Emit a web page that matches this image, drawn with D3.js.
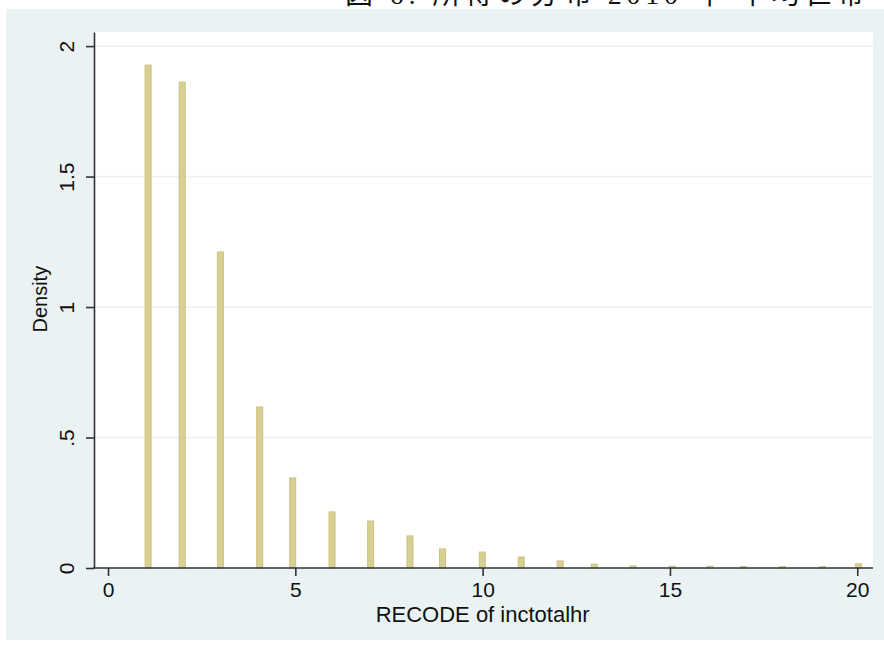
<!DOCTYPE html>
<html>
<head>
<meta charset="utf-8">
<script src="https://cdn.jsdelivr.net/npm/d3@7"></script>
<style>
  body { margin: 0; background: #fff; }
  svg { display: block; }
</style>
</head>
<body>
<svg width="884" height="647"></svg>
<script>
// bin centres and densities
var binX = [1.07, 1.98, 3.0, 4.05, 4.93, 5.98, 7.01, 8.06, 8.93, 9.99,
            11.03, 12.07, 12.98, 14.02, 15.06, 16.07, 16.96, 18.0, 19.07, 20.03];
var density = [1.927, 1.862, 1.211, 0.617, 0.345, 0.215, 0.18, 0.123, 0.073, 0.061,
               0.042, 0.027, 0.015, 0.008, 0.007, 0.007, 0.006, 0.006, 0.006, 0.016];
var xTicks = [0, 5, 10, 15, 20];
var yTicks = [0, 0.5, 1, 1.5, 2];
var yTickLabels = ["0", ".5", "1", "1.5", "2"];
var titleText = "図 6: 所得の分布 2010 年 平均世帯";
var xTitle = "RECODE of inctotalhr";
var yTitle = "Density";

var bins = binX.map(function(d, i) { return {x: d, v: density[i]}; });

var svg = d3.select("svg"),
    margin = {top: 32, right: 11, bottom: 79, left: 94},
    width = 884 - margin.left - margin.right,
    height = 647 - margin.top - margin.bottom;

// outer graph region
svg.append("rect")
    .attr("x", 6).attr("y", 9)
    .attr("width", 878).attr("height", 631)
    .attr("fill", "#eaf2f3");

// title (cut off by the top of the image, as in the original)
svg.append("text")
    .attr("x", 345)
    .attr("y", 4)
    .attr("textLength", 520)
    .attr("lengthAdjust", "spacing")
    .style("font-family", "'Liberation Serif', 'Noto Sans CJK JP', serif")
    .style("font-size", "28px")
    .attr("fill", "#111")
    .text(titleText);

var g = svg.append("g").attr("transform", "translate(" + margin.left + "," + margin.top + ")");

var x = d3.scaleLinear().domain([-0.374, 20.42]).range([0, width]),
    y = d3.scaleLinear().domain([0, 2.054]).range([height, 0]);

g.append("rect")
    .attr("width", width).attr("height", height)
    .attr("fill", "#fff");

// gridlines
g.append("g").selectAll("line")
    .data(yTicks.slice(1))
  .enter().append("line")
    .attr("x1", 0).attr("x2", width)
    .attr("y1", function(d) { return y(d); })
    .attr("y2", function(d) { return y(d); })
    .attr("stroke", "#eaf2f3")
    .attr("stroke-width", 1.6);

// bars
var barW = 6 / (x(1) - x(0));
g.append("g").selectAll("rect")
    .data(bins)
  .enter().append("rect")
    .attr("x", function(d) { return x(d.x - barW / 2); })
    .attr("y", function(d) { return y(d.v); })
    .attr("width", x(barW) - x(0))
    .attr("height", function(d) { return y(0) - y(d.v); })
    .attr("fill", "#d8cf93")
    .attr("stroke", "#cbc17f")
    .attr("stroke-width", 1);

// axes
var xAxis = g.append("g")
    .attr("transform", "translate(0," + height + ")")
    .call(d3.axisBottom(x).tickValues(xTicks).tickSize(8).tickPadding(6).tickSizeOuter(0));

var yAxis = g.append("g")
    .call(d3.axisLeft(y).tickValues(yTicks).tickSize(8).tickSizeOuter(0)
      .tickFormat(function(d, i) { return yTickLabels[i]; }));

[xAxis, yAxis].forEach(function(a) {
  a.select(".domain").attr("stroke", "#333").attr("stroke-width", 1.6);
  a.selectAll(".tick line").attr("stroke", "#333").attr("stroke-width", 1.6);
  a.selectAll(".tick text")
      .attr("fill", "#111")
      .style("font-family", "'Liberation Sans', Arial, sans-serif")
      .style("font-size", "21px");
});

// x-axis line spans the whole plot width
xAxis.select(".domain").attr("d", "M-1,0H" + width);

yAxis.selectAll(".tick text")
    .attr("transform", "rotate(-90)")
    .attr("x", 0)
    .attr("y", -20)
    .attr("dy", "0")
    .attr("text-anchor", "middle");

g.append("text")
    .attr("x", x(10))
    .attr("y", height + 54)
    .attr("text-anchor", "middle")
    .attr("fill", "#111")
    .style("font-family", "'Liberation Sans', Arial, sans-serif")
    .style("font-size", "22px")
    .text(xTitle);

g.append("text")
    .attr("transform", "rotate(-90)")
    .attr("x", -(y(1.03)))
    .attr("y", -47)
    .attr("text-anchor", "middle")
    .attr("fill", "#111")
    .style("font-family", "'Liberation Sans', Arial, sans-serif")
    .style("font-size", "20px")
    .text(yTitle);
</script>
</body>
</html>
